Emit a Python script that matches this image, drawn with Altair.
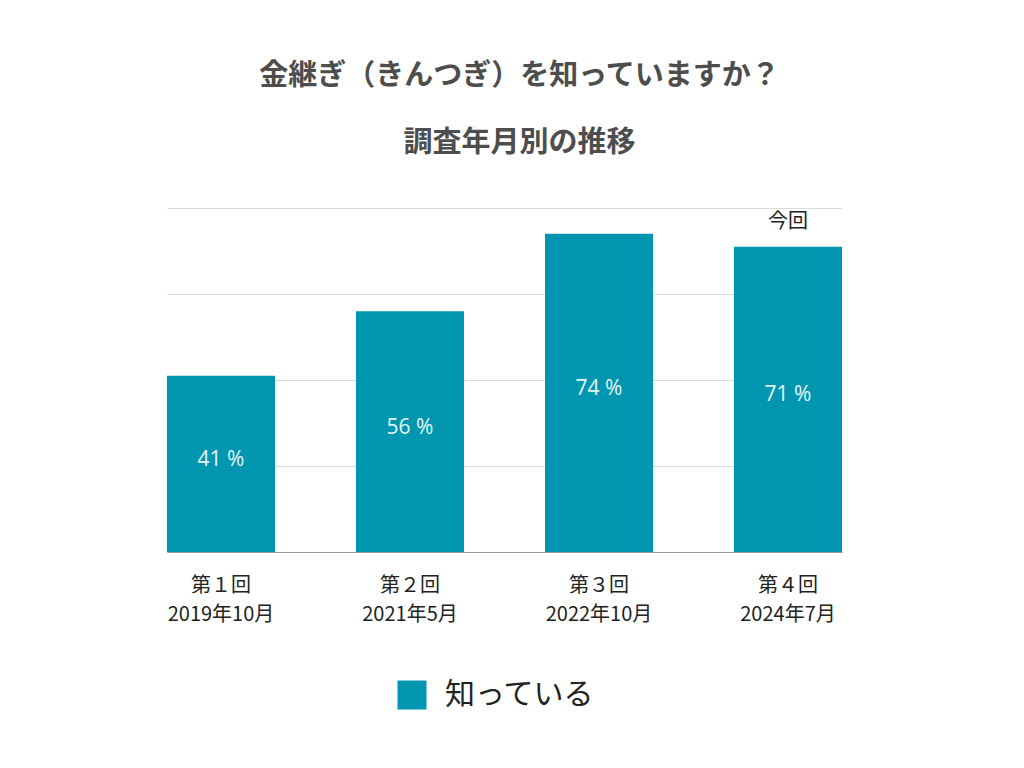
import altair as alt
import pandas as pd

rounds = ["第１回", "第２回", "第３回", "第４回"]
dates = ["2019年10月", "2021年5月", "2022年10月", "2024年7月"]
values = [41, 56, 74, 71]
notes = ["", "", "", "今回"]
series = "知っている"

df = pd.DataFrame({
    "round": rounds,
    "date": dates,
    "value": values,
    "note": notes,
    "series": [series] * len(rounds),
})
df["cat"] = df["round"] + "\n" + df["date"]
order = list(df["cat"])

JP = "Noto Sans CJK JP"
BAR = "#0096b0"

x = alt.X(
    "cat:N",
    sort=order,
    title=None,
    scale=alt.Scale(paddingInner=3 / 7, paddingOuter=0),
    axis=alt.Axis(
        labelExpr="split(datum.label, '\\n')",
        labelAngle=0,
        labelFont=JP,
        labelFontSize=20,
        labelLineHeight=29,
        labelColor="#222222",
        labelPadding=23,
        ticks=False,
        domainColor="#9a9a9a",
        domainWidth=1.2,
        grid=False,
    ),
)

y = alt.Y(
    "value:Q",
    title=None,
    scale=alt.Scale(domain=[0, 80]),
    axis=alt.Axis(
        values=[0, 20, 40, 60, 80],
        labels=False,
        ticks=False,
        domain=False,
        grid=True,
        gridColor="#dcdcdc",
        gridWidth=1,
    ),
)

base = alt.Chart(df)

bars = base.mark_bar(color=BAR).encode(
    x=x,
    y=y,
    color=alt.Color(
        "series:N",
        scale=alt.Scale(range=[BAR]),
        legend=alt.Legend(
            title=None,
            orient="none",
            legendX=230,
            legendY=472,
            symbolType="square",
            symbolSize=841,
            symbolStrokeWidth=0,
            labelFont=JP,
            labelFontSize=30,
            labelColor="#222222",
            labelOffset=18,
            padding=0,
        ),
    ),
)

labels = base.transform_calculate(
    mid="datum.value / 2",
    txt="datum.value + ' %'",
).mark_text(
    font="Open Sans", fontSize=21, color="#e4f6f9", baseline="middle", dy=-4
).encode(
    x=alt.X("cat:N", sort=order),
    y=alt.Y("mid:Q"),
    text="txt:N",
)

note = base.mark_text(
    font=JP, fontSize=20, color="#222222", baseline="middle", dy=-25
).encode(
    x=alt.X("cat:N", sort=order),
    y=alt.Y("value:Q"),
    text="note:N",
)

chart = (
    alt.layer(bars, labels, note)
    .properties(
        width=675,
        height=344,
        background="white",
        title=alt.TitleParams(
            text="金継ぎ（きんつぎ）を知っていますか？",
            subtitle="調査年月別の推移",
            font=JP,
            fontSize=29,
            fontWeight="bold",
            color="#4d4d4d",
            subtitleFont=JP,
            subtitleFontSize=29,
            subtitleFontWeight="bold",
            subtitleColor="#4d4d4d",
            subtitlePadding=38,
            anchor="middle",
            dx=15,
            offset=41,
        ),
        autosize=alt.AutoSizeParams(type="none"),
        padding={"left": 159, "top": 200, "right": 174, "bottom": 208},
    )
    .configure_view(strokeWidth=0)
)

chart.save("out.html", embed_options={"renderer": "svg", "actions": False})
